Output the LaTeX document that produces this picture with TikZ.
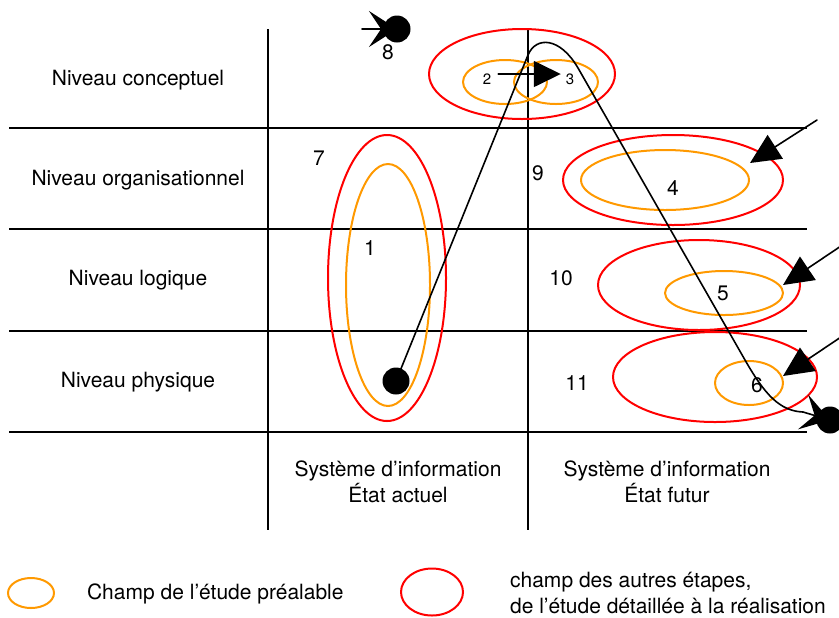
\documentclass[tikz,border=0pt]{standalone}
\usepackage{fontspec}
\setmainfont{TeX Gyre Heros}
\usetikzlibrary{arrows.meta}
\usetikzlibrary{positioning}
\definecolor{ringred}{RGB}{255,0,0}
\definecolor{ringorange}{RGB}{255,153,0}
\tikzstyle{every node}=[font=\fontsize{10.5}{13}\selectfont]
\tikzstyle{every path}=[line cap=round,line join=round]
\tikzstyle{grid}=[line width=1.4pt,line cap=butt]
\tikzstyle{etude}=[draw=ringorange,line width=1pt]
\tikzstyle{autres}=[draw=ringred,line width=1pt]
\tikzstyle{dot}=[circle,fill,inner sep=0pt,minimum size=13.5pt]
\tikzstyle{pointer}=[line width=0.8pt,-{Triangle[length=15pt,width=14pt]}]
\tikzstyle{swallow}=[line width=0.8pt,-{Stealth[length=14pt,width=18pt,inset=6pt]}]

\begin{document}
\begin{tikzpicture}[x=0.5pt,y=-0.5pt]
  \useasboundingbox (0,0) rectangle (839,617);

  % grid
  \foreach \yy in {128,229,331,432}
    \draw[grid] (9,\yy) -- (807,\yy);
  \foreach \xx in {268,528}
    \draw[grid] (\xx,29) -- (\xx,530);

  % levels and states
  \foreach \yy/\txt in {80/conceptuel,180/organisationnel,280/logique,382/physique}
    \node (niv-\txt) at (138,\yy) {Niveau \txt};
  \node[align=center] (actuel) at (398,482) {Système d’information\\État actuel};
  \node[align=center] (futur) at (667,482) {Système d’information\\État futur};

  % red fields
  \foreach \cx/\cy/\rx/\ry in {387/278/59/143, 522/74/93/45, 673/180/110/45,
      699/285/101/45, 715/377/102/45}
    \draw[autres] (\cx,\cy) ellipse [x radius=\rx, y radius=\ry];
  % orange fields
  \foreach \cx/\cy/\rx/\ry in {388/285/42/121, 505/82/42/22, 556/82/42/22,
      665/180/84/30, 724/293/59/22, 749/383/34/22}
    \draw[etude] (\cx,\cy) ellipse [x radius=\rx, y radius=\ry];

  % numbers
  \foreach \nn/\px/\py in {1/370/248, 4/673/188, 5/723/293, 6/757/385,
      7/319/158, 8/388/52, 9/538/173, 10/561/278, 11/577/383}
    \node (n\nn) at (\px,\py) {\nn};
  \node[font=\fontsize{7.5}{9}\selectfont] (n2) at (487,79) {2};
  \node[font=\fontsize{7.5}{9}\selectfont] (n3) at (570,79) {3};

  \draw[line width=0.8pt,-{Triangle[length=13.5pt,width=13pt]}]
    ([yshift=2.5pt]n2.east) -- ([xshift=1pt,yshift=2.5pt]n3.west);

  % path of the study
  \node[dot] (depart) at (396,381) {};
  \node[dot] (arrivee) at (830,420) {};
  \node[dot] (d8) at (397,29) {};
  \coordinate (q8) at (362,29);
  \draw[swallow] (q8) -- (d8.center);
  \draw[swallow] (depart.center) -- (528,55)
    .. controls (536,36) and (560,37) .. (578,68)
    -- (745,360)
    .. controls (765,395) and (780,411) .. (803,412)
    -- (arrivee.center);

  % pointers to the red fields
  \coordinate (p4) at (817,120);
  \coordinate (t4) at (750,163);
  \coordinate (p5) at (841,246);
  \coordinate (t5) at (783,285);
  \coordinate (p6) at (841,337);
  \coordinate (t6) at (783,376);
  \foreach \k in {4,5,6}
    \draw[pointer] (p\k) -- (t\k);

  % legend
  \draw[etude] (31,593) ellipse [x radius=23, y radius=15];
  \node[anchor=west] (leg-etude) at (80,594) {Champ de l’étude préalable};
  \draw[autres] (432,592) ellipse [x radius=31, y radius=23.5];
  \node[anchor=west,align=left] (leg-autres) at (503,593)
    {champ des autres étapes,\\de l’étude détaillée à la réalisation};
\end{tikzpicture}
\end{document}
